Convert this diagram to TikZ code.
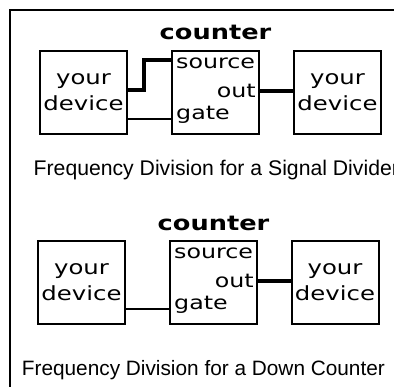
\documentclass[tikz,border=0pt]{standalone}
\usepackage{fontspec}
\usepackage{tikz}
\usetikzlibrary{positioning, calc}
\newfontfamily\pixfont[FakeStretch=1.25]{DejaVu Sans}
\newfontfamily\capfont{Liberation Sans}
\tikzset{
  devbox/.style={rectangle, draw=black, line width=2pt,
    minimum width=87pt, minimum height=83pt, inner sep=0pt,
    align=center, font=\pixfont\fontsize{19.5}{26}\selectfont},
  cntbox/.style={rectangle, draw=black, line width=2pt,
    minimum width=87pt, minimum height=83pt, inner sep=0pt},
  pinlabel/.style={inner sep=0pt, font=\pixfont\fontsize{19}{23}\selectfont},
  cnttitle/.style={inner sep=0pt, anchor=base,
    font=\pixfont\bfseries\fontsize{20.5}{24}\selectfont},
  caption/.style={inner sep=0pt, anchor=base west,
    font=\capfont\fontsize{20.8}{25}\selectfont},
  wire/.style={line width=2pt},
  thickwire/.style={line width=4pt},
  frame/.style={line width=2pt}
}

\begin{document}
\begin{tikzpicture}[x=1pt, y=-1pt]
  \useasboundingbox (0,0) rectangle (394,386);
  \clip (0,0) rectangle (394,386);
  % Outer frame, open at right and bottom
  \draw[frame] (10,387) -- (10,10) -- (395,10);

  % Signal divider
  \node[devbox] (dev1) at (83.5,92.5) {your\\device};
  \node[cntbox] (cnt1) at (215.5,92.5) {};
  \node[devbox] (out1) at (337.5,92.5) {your\\device};
  \node[cnttitle] (title1) at ($(cnt1.north)+(0,-10.5)$) {counter};
  \node[pinlabel, anchor=base west] (src1) at ($(cnt1.north west)+(5,18)$) {source};
  \node[pinlabel, anchor=base east] (o1) at ($(cnt1.north east)+(-4,47)$) {out};
  \node[pinlabel, anchor=base west] (gate1) at ($(cnt1.north west)+(5,69)$) {gate};
  \coordinate (srcpin1) at ($(cnt1.north west)+(0,10)$);
  \coordinate (gatepin1) at ($(cnt1.north west)+(0,69)$);
  \draw[thickwire] ([yshift=2.5pt]dev1.east) -- ++(16,0) |- (srcpin1);
  \draw[wire] (dev1.east |- gatepin1) -- (gatepin1);
  \draw[thickwire] ([yshift=1.5pt]cnt1.east) -- ([yshift=1.5pt]out1.west);
  \node[caption, font=\capfont\fontsize{21.2}{25}\selectfont] (cap1) at (33.5,175)
    {Frequency Division for a Signal Divider};

  % Down counter
  \node[devbox] (dev2) at (81.5,282.5) {your\\device};
  \node[cntbox] (cnt2) at (213.5,282.5) {};
  \node[devbox] (out2) at (335,282.5) {your\\device};
  \node[cnttitle] (title2) at ($(cnt2.north)+(0,-10)$) {counter};
  \node[pinlabel, anchor=base west] (src2) at ($(cnt2.north west)+(5,18)$) {source};
  \node[pinlabel, anchor=base east] (o2) at ($(cnt2.north east)+(-4,47)$) {out};
  \node[pinlabel, anchor=base west] (gate2) at ($(cnt2.north west)+(5,69)$) {gate};
  \coordinate (gatepin2) at ($(cnt2.north west)+(0,69)$);
  \draw[wire] (dev2.east |- gatepin2) -- (gatepin2);
  \draw[thickwire] ([yshift=1.5pt]cnt2.east) -- ([yshift=1.5pt]out2.west);
  \node[caption] (cap2) at (21.7,375.7) {Frequency Division for a Down Counter};
\end{tikzpicture}
\end{document}
